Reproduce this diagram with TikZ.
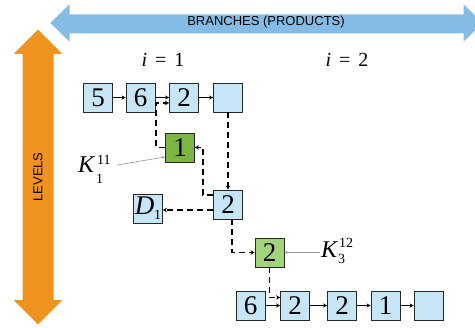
\documentclass[tikz,border=0pt]{standalone}
\usepackage{fontspec}
\setmainfont{Liberation Serif}
\newfontfamily\arialf{Liberation Sans}
\usetikzlibrary{arrows.meta}
\definecolor{boxblue}{HTML}{C6E6F8}
\definecolor{gdark}{HTML}{7DB544}
\definecolor{glight}{HTML}{A3D47D}
\definecolor{arrblue}{HTML}{85BCE5}
\definecolor{arrorange}{HTML}{F0921E}
\newcommand{\scr}{\fontsize{14}{14}\selectfont}
\tikzset{
  cell/.style={draw=black!85, line width=0.9pt, fill=boxblue, minimum width=29pt, minimum height=29pt, inner sep=0pt, font=\fontsize{27}{27}\selectfont},
  gcell/.style={cell, fill=gdark},
  lcell/.style={cell, fill=glight},
  link/.style={line width=0.8pt, -{Stealth[length=4pt,width=4pt]}},
  dsh/.style={line width=1.2pt, dash pattern=on 6pt off 4pt, -{Stealth[length=4pt,width=4.5pt]}},
  gr/.style={draw=black!40, line width=0.6pt, -{Stealth[length=3pt,width=3pt]}},
  lab/.style={inner sep=0pt, anchor=base west, font=\fontsize{24}{24}\selectfont\itshape},
  scrlab/.style={inner sep=0pt, anchor=base west, font=\scr},
}
\begin{document}
\begin{tikzpicture}[x=1pt,y=-1pt]
\useasboundingbox (0,0) rectangle (475,328);
% orange vertical arrow
\fill[arrorange, draw=white, line width=2pt] (38,28) -- (65,55) -- (54.5,55) -- (54.5,299) -- (65,299) -- (38,326) -- (11,299) -- (21.5,299) -- (21.5,55) -- (11,55) -- cycle;
\node[rotate=90, font=\arialf\fontsize{13}{13}\selectfont] (levels) at (38,177) {LEVELS};
% blue horizontal arrow
\fill[arrblue, draw=white, line width=3pt] (48,23) -- (71,0.5) -- (71,13) -- (462,13) -- (462,0.5) -- (485,23) -- (462,45.5) -- (462,35) -- (71,35) -- (71,45.5) -- cycle;
\node[font=\arialf\fontsize{13}{13}\selectfont] (branches) at (266,22) {BRANCHES (PRODUCTS)};
% column labels
\node[font=\fontsize{20}{20}\selectfont] (i1) at (163,60) {\textit{i}\hspace{0.4em}=\hspace{0.4em}1};
\node[font=\fontsize{20}{20}\selectfont] (i2) at (347,60) {\textit{i}\hspace{0.4em}=\hspace{0.4em}2};
% top row
\node[cell] (a5) at (98,97.5) {5};
\node[cell] (a6) at (140.5,97.5) {6};
\node[cell] (a2) at (184,97.5) {2};
\node[cell] (ae) at (228,97.5) {};
\draw[link] (a5) -- (a6);
\draw[link] (a6) -- (a2);
\draw[link] (a2) -- (ae);
% middle
\node[gcell] (g1) at (180,147.5) {1};
\node[cell] (m2) at (228,204.5) {2};
\node[cell] (d1) at (148,208.5) {\textit{D}\raisebox{-5pt}{\scr 1}};
\node[lcell] (g2) at (269.5,252.5) {2};
% bottom row
\node[cell] (b6) at (250.5,305.5) {6};
\node[cell] (b2) at (295,305.5) {2};
\node[cell] (c2) at (342,305.5) {2};
\node[cell] (b1) at (385.5,305.5) {1};
\node[cell] (be) at (428.5,305.5) {};
\draw[link] (b6) -- (b2);
\draw[link] (b2) -- (c2);
\draw[link] (c2) -- (b1);
\draw[link] (b1) -- (be);
% dashed pointers
\draw[dsh] (g1.west) -- ++(-9,0) |- ([yshift=-5.5pt]a2.west);
\draw[dsh] ([yshift=9.5pt]m2.west) -- ++(-10,0) |- (g1.east);
\draw[dsh] (ae.south) -- (m2.north);
\draw[dsh] ([yshift=-5.5pt]m2.west) -- ([yshift=-5.5pt]m2.west -| d1.east);
\draw[dsh] ([xshift=4pt]m2.south) |- (g2.west);
\draw[dsh] (g2.south) |- ([yshift=8pt]b2.west);
% K labels
\node[lab] (k1) at (78,173) {K};
\node[scrlab] (k1sup) at (97,164.5) {11};
\node[scrlab] (k1sub) at (96,184) {1};
\coordinate (k1s) at (117,165);
\draw[gr] (k1s) -- ([yshift=-9.5pt]g1.west);
\node[lab] (k3) at (321,258) {K};
\node[scrlab] (k3sup) at (339,248) {12};
\node[scrlab] (k3sub) at (338,264) {3};
\coordinate (k3s) at (320,252.5);
\draw[gr] (k3s) -- (g2.east);
\end{tikzpicture}
\end{document}
